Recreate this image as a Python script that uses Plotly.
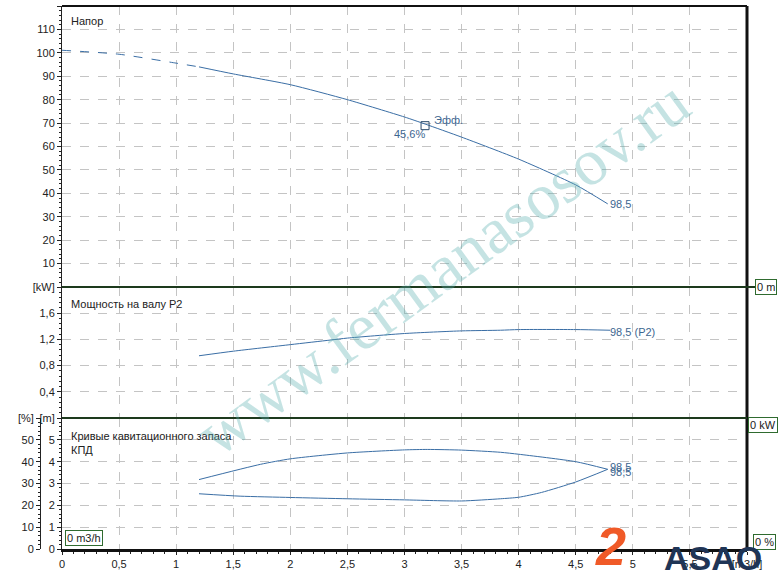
import plotly.graph_objects as go

# ── Data ──────────────────────────────────────────────────────────────────────
q_head_dash = [0.0, 0.5, 1.0, 1.2]
head_dash = [101.1, 99.4, 95.6, 94.0]

q_head = [1.2, 1.5, 2.0, 2.5, 3.0, 3.18, 3.5, 4.0, 4.5, 4.78]
head = [94.0, 91.0, 86.4, 80.0, 72.6, 69.6, 64.0, 54.6, 43.6, 35.5]

q_power = [1.2, 1.5, 2.0, 2.35, 2.5, 3.0, 3.5, 3.84, 4.0, 4.5, 4.8]
power = [0.95, 1.02, 1.12, 1.19, 1.22, 1.29, 1.33, 1.34, 1.35, 1.35, 1.34]

q_eff = [1.2, 1.74, 2.0, 2.5, 3.0, 3.2, 3.5, 3.84, 4.0, 4.5, 4.78]
eff = [31.8, 38.8, 41.3, 44.0, 45.4, 45.6, 45.3, 44.3, 43.4, 40.0, 36.5]

q_npsh = [1.2, 1.56, 2.0, 2.5, 3.0, 3.5, 3.84, 4.0, 4.2, 4.5, 4.78]
npsh = [2.53, 2.42, 2.36, 2.30, 2.25, 2.20, 2.30, 2.37, 2.59, 3.07, 3.65]

q_bep = [3.18]
head_bep = [68.9]

x_ticks = [0, 0.5, 1, 1.5, 2, 2.5, 3, 3.5, 4, 4.5, 5, 5.5, 6]
x_labels = ["0", "0,5", "1", "1,5", "2", "2,5", "3", "3,5", "4", "4,5", "5", "5,5", "[m3/h]"]
head_ticks = [10, 20, 30, 40, 50, 60, 70, 80, 90, 100, 110, 120]
head_labels = ["10", "20", "30", "40", "50", "60", "70", "80", "90", "100", "110", "[m]"]
p_ticks = [0.4, 0.8, 1.2, 1.6, 2.0]
p_labels = ["0,4", "0,8", "1,2", "1,6", "[kW]"]
npsh_ticks = [0, 1, 2, 3, 4, 5, 6]
npsh_labels = ["0", "1", "2", "3", "4", "5", "[m]"]
eff_ticks = [0, 10, 20, 30, 40, 50, 60]
eff_labels = ["0", "10", "20", "30", "40", "50", "[%]"]

# ── Geometry helpers (pixel -> paper) ─────────────────────────────────────────
W, H = 778, 572
ML, MR, MT, MB = 10, 31, 6, 23
PW, PH = W - ML - MR, H - MT - MB


def px(x):
    return (x - ML) / PW


def py(y):
    return (H - MB - y) / PH


LINE = "#3a6ea5"
LBL = "#3d6690"
FONT = "Liberation Sans, Arial, sans-serif"
GRID = "#c4c4c4"

fig = go.Figure()

# head
fig.add_trace(go.Scatter(x=q_head_dash, y=head_dash, mode="lines", xaxis="x3", yaxis="y3",
                         line=dict(color=LINE, width=1, dash="dash", shape="spline", smoothing=0.6)))
fig.add_trace(go.Scatter(x=q_head, y=head, mode="lines", xaxis="x3", yaxis="y3",
                         line=dict(color=LINE, width=1, shape="spline", smoothing=0.6)))
fig.add_trace(go.Scatter(x=q_bep, y=head_bep, mode="markers", xaxis="x3", yaxis="y3",
                         marker=dict(symbol="square-open", size=8, color="#2a4a6a",
                                     line=dict(width=1))))
# power
fig.add_trace(go.Scatter(x=q_power, y=power, mode="lines", xaxis="x2", yaxis="y2",
                         line=dict(color=LINE, width=1, shape="spline", smoothing=0.6)))
# npsh + efficiency
fig.add_trace(go.Scatter(x=q_npsh, y=npsh, mode="lines", xaxis="x", yaxis="y",
                         line=dict(color=LINE, width=1, shape="spline", smoothing=0.6)))
fig.add_trace(go.Scatter(x=q_eff, y=eff, mode="lines", xaxis="x", yaxis="y4",
                         line=dict(color=LINE, width=1, shape="spline", smoothing=0.6)))

dom_bot = [0, py(418)]
dom_mid = [py(418), py(287)]
dom_top = [py(287), 1]
xdom = [px(62), 1]

tick_font = dict(family=FONT, size=11, color="#222")
common_x = dict(domain=xdom, range=[0, 6], showgrid=True, gridcolor=GRID, griddash="dash",
                gridwidth=1, zeroline=False, tickvals=x_ticks, automargin=False)
common_y = dict(showgrid=True, gridcolor=GRID, griddash="dash", gridwidth=1, zeroline=False,
                showline=True, linecolor="#222", linewidth=1, ticks="outside", ticklen=4,
                tickcolor="#222", tickfont=tick_font, automargin=False)

fig.update_layout(
    width=W, height=H,
    margin=dict(l=ML, r=MR, t=MT, b=MB),
    paper_bgcolor="white", plot_bgcolor="white",
    showlegend=False,
    font=dict(family=FONT, size=11, color="#222"),
    xaxis=dict(**common_x, anchor="y", ticktext=x_labels, ticks="outside", ticklen=3,
               tickcolor="#222", tickfont=tick_font, showline=True, linecolor="#111",
               linewidth=3,
               minor=dict(ticks="outside", ticklen=2, dtick=0.1, tickcolor="#222", showgrid=False)),
    xaxis2=dict(**common_x, anchor="y2", matches="x", showticklabels=False),
    xaxis3=dict(**common_x, anchor="y3", matches="x", showticklabels=False),
    yaxis=dict(**common_y, domain=dom_bot, range=[0, 6], tickvals=npsh_ticks, ticktext=npsh_labels,
               minor=dict(ticks="outside", ticklen=2, dtick=0.2, tickcolor="#222", showgrid=False)),
    yaxis2=dict(**common_y, domain=dom_mid, range=[0, 2], tickvals=p_ticks, ticktext=p_labels,
                minor=dict(ticks="outside", ticklen=2, dtick=0.08, tickcolor="#222", showgrid=False)),
    yaxis3=dict(**common_y, domain=dom_top, range=[0, 120], tickvals=head_ticks, ticktext=head_labels,
                minor=dict(ticks="outside", ticklen=2, dtick=2, tickcolor="#222", showgrid=False)),
    yaxis4=dict(overlaying="y", anchor="free", position=px(40), side="left", range=[0, 60],
                tickvals=eff_ticks, ticktext=eff_labels, showgrid=False, zeroline=False,
                showline=True, linecolor="#222", linewidth=1, ticks="outside", ticklen=4,
                tickcolor="#222", tickfont=tick_font, automargin=False,
                minor=dict(ticks="outside", ticklen=2, dtick=2, tickcolor="#222")),
)

# frame and panel separators
shapes = [
    dict(type="line", xref="paper", yref="paper", x0=px(62), x1=px(747), y0=1, y1=1,
         line=dict(color="#111", width=2)),
    dict(type="line", xref="paper", yref="paper", x0=px(747), x1=px(747), y0=0, y1=1,
         line=dict(color="#111", width=3)),
    dict(type="line", xref="paper", yref="paper", x0=px(62), x1=px(756), y0=py(287), y1=py(287),
         line=dict(color="#1d3a1d", width=2)),
    dict(type="line", xref="paper", yref="paper", x0=px(62), x1=px(747), y0=py(418), y1=py(418),
         line=dict(color="#1d3a1d", width=2)),
]
fig.update_layout(shapes=shapes)

ann = []


def text(x, y, s, color="#222", xanchor="left", size=11, **kw):
    ann.append(dict(x=px(x), y=py(y), xref="paper", yref="paper", text=s, showarrow=False,
                    xanchor=xanchor, yanchor="middle", font=dict(family=FONT, size=size, color=color),
                    **kw))


text(69, 21, "Напор")
text(69, 304, "Мощность на валу P2")
text(69, 436, "Кривые кавитационного запаса")
text(69, 450, "КПД")

text(432, 120, "Эфф.", color=LBL)
text(392, 134, "45,6%", color=LBL)
text(608, 204, "98,5", color=LBL)
text(608, 332, "98,5 (P2)", color=LBL)
text(608, 467, "98,5", color=LBL)
text(608, 472, "98,5", color=LBL)

# value boxes
box = dict(bordercolor="#2f6b2f", borderwidth=1, bgcolor="white", borderpad=1)
text(755, 287, "0 m", **box)
text(748, 425, "0 kW", **box)
text(753, 542, "0 %", **box)
text(65, 538, "0 m3/h", **box)

# watermark and logo
ann.append(dict(x=px(442), y=py(267), xref="paper", yref="paper", text="www.fermanasosov.ru",
                showarrow=False, textangle=-36, xanchor="center", yanchor="middle",
                font=dict(family="Liberation Serif, DejaVu Serif, serif", size=66,
                          color="rgba(90,175,175,0.35)")))
ann.append(dict(x=px(610), y=py(546), xref="paper", yref="paper", text="<b><i>2</i></b>",
                showarrow=False, xanchor="center", yanchor="middle",
                font=dict(family=FONT, size=54, color="#f05a28")))
ann.append(dict(x=px(713), y=py(558), xref="paper", yref="paper", text="<b>ASAO</b>",
                showarrow=False, xanchor="center", yanchor="middle",
                font=dict(family=FONT, size=34, color="#1f3556")))

fig.update_layout(annotations=ann)

fig.write_html("out.html", config={"displayModeBar": False},
               post_script="document.body.style.margin='0';")
